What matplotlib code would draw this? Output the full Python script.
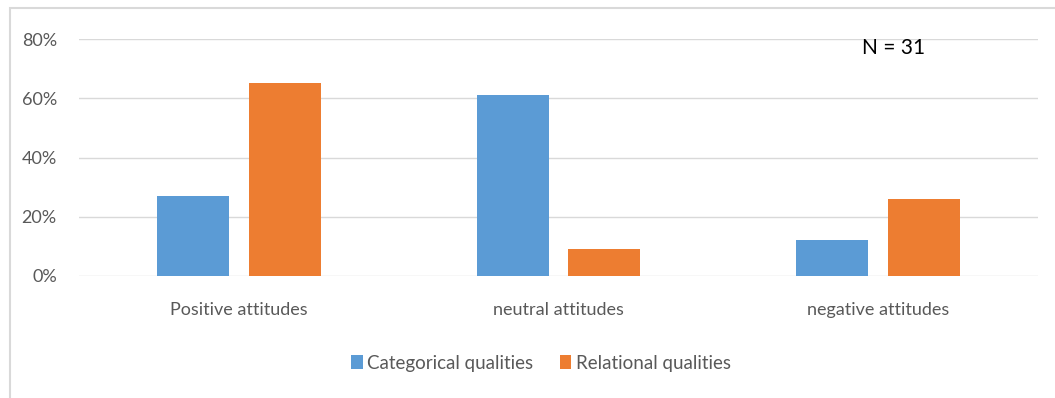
import numpy as np
import matplotlib.pyplot as plt
from matplotlib.patches import Rectangle

categories = ["Positive attitudes", "neutral attitudes", "negative attitudes"]
categorical = [27, 61, 12]
relational = [65, 9, 26]
yticks = [0, 20, 40, 60, 80]

plt.rcParams['font.family'] = ['Lato', 'DejaVu Sans']

fig = plt.figure(figsize=(10.55, 3.98), dpi=100)
ax = fig.add_axes([79 / 1055, 1 - 276 / 398, 959 / 1055, 237 / 398])

# rahmen
fig.patches.append(Rectangle((10 / 1055, -0.1), 1.2, 1 - 8 / 398 + 0.1,
                             transform=fig.transFigure, fill=False,
                             edgecolor='#d9d9d9', linewidth=1.5))

x = np.arange(len(categories))
w = 0.225
ax.bar(x - 0.1435, categorical, w, color='#5b9bd5', label='Categorical qualities')
ax.bar(x + 0.1435, relational, w, color='#ed7d31', label='Relational qualities')

ax.set_xlim(-0.5, 2.5)
ax.set_ylim(0, 80)
ax.set_yticks(yticks)
ax.set_yticklabels([f"{t}%" for t in yticks])
ax.set_xticks(x)
ax.set_xticklabels(categories)
ax.grid(axis='y', color='#d9d9d9', linewidth=1)
ax.set_axisbelow(True)
for s in ax.spines.values():
    s.set_visible(False)
ax.tick_params(length=0, colors='#595959', labelsize=13)
ax.tick_params(axis='x', pad=19)
ax.tick_params(axis='y', pad=16)

ax.text(0.849, 0.962, "N = 31", transform=ax.transAxes, fontsize=15,
        ha='center', va='center', color='black')

fig.legend(loc='center', bbox_to_anchor=(541 / 1055, 1 - 363 / 398), ncol=2,
           frameon=False, fontsize=13.5, handlelength=0.6, handleheight=0.7,
           columnspacing=1.4, handletextpad=0.25, labelcolor='#595959')

fig.savefig("out.png", dpi=100)
